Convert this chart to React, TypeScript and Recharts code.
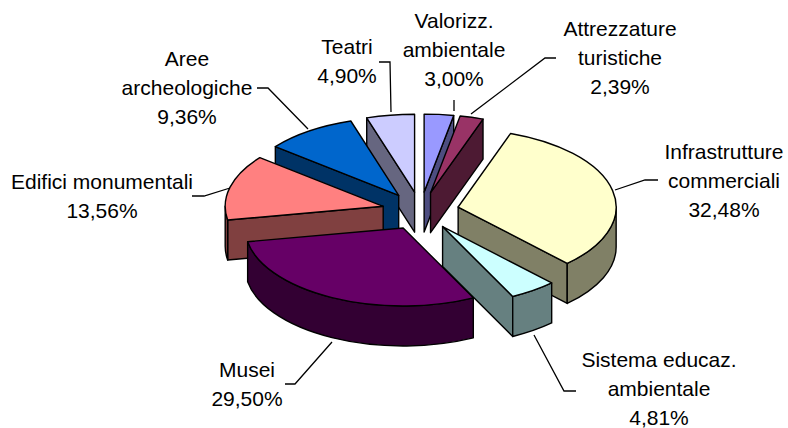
import React from "react";
import { PieChart, Pie } from "recharts";

const names = ["Valorizz. ambientale", "Attrezzature turistiche", "Infrastrutture commerciali", "Sistema educaz. ambientale", "Musei", "Edifici monumentali", "Aree archeologiche", "Teatri"];
const values = [3.0, 2.39, 32.48, 4.81, 29.5, 13.56, 9.36, 4.9];
const colors = ["#9999FF", "#993366", "#FFFFCC", "#CCFFFF", "#660066", "#FF8080", "#0066CC", "#CCCCFF"];
const labelLines = [
  ["Valorizz.", "ambientale"],
  ["Attrezzature", "turistiche"],
  ["Infrastrutture", "commerciali"],
  ["Sistema educaz.", "ambientale"],
  ["Musei"],
  ["Edifici monumentali"],
  ["Aree", "archeologiche"],
  ["Teatri"],
];
// back-to-front painting order of the exploded slices
const paintOrder = [7, 0, 1, 6, 5, 2, 4, 3];

// label layout: centre x, first baseline y, leader polyline
const labelLayout = [
  { x: 454, y: 28, lead: "454,100 454,111" },
  { x: 620, y: 36, lead: "556,58 545,58 471,114" },
  { x: 724, y: 159, lead: "658,180 645,180 615,190" },
  { x: 659, y: 367, lead: "576,391 564,391 534,335" },
  { x: 247, y: 377, lead: "285,384 295,384 332,342" },
  { x: 102, y: 189, lead: "192,196 204,196 230,188" },
  { x: 187, y: 66, lead: "257,88 268,88 308,129" },
  { x: 347, y: 54, lead: "379,62 390,62 391,112" },
];

const data = names.map((name, i) => ({ name, value: values[i], fill: colors[i] }));

const CX = 420.5;
const CY = 211;
const RX = 158;
const RY = 78;
const EXPLODE = 38.5;
const DEPTH = 40;
const FONT = "'Liberation Sans', Arial, sans-serif";

const rad = (d: number) => (d * Math.PI) / 180;

function darken(hex: string) {
  const n = parseInt(hex.slice(1), 16);
  const r = (n >> 16) & 255, g = (n >> 8) & 255, b = n & 255;
  return `rgb(${Math.round(r / 2)},${Math.round(g / 2)},${Math.round(b / 2)})`;
}

function Slice3D(props: any) {
  const { startAngle, endAngle, fill } = props;
  const s = 90 - startAngle;
  const e = 90 - endAngle;
  const m = (s + e) / 2;
  const ax = props.cx + EXPLODE * Math.sin(rad(m));
  const ay = props.cy - (EXPLODE * RY * Math.cos(rad(m))) / RX;
  const pt = (c: number, dy = 0) => [ax + RX * Math.sin(rad(c)), ay - RY * Math.cos(rad(c)) + dy];
  const dark = darken(fill);
  const [sx, sy] = pt(s);
  const [ex, ey] = pt(e);
  const stroke = { stroke: "#000", strokeWidth: 1.4, strokeLinejoin: "round" as const };
  const walls: React.ReactNode[] = [];
  if (sx < ax - 0.01) {
    walls.push(<path key="s" d={`M${ax},${ay}L${sx},${sy}L${sx},${sy + DEPTH}L${ax},${ay + DEPTH}Z`} fill={dark} {...stroke} />);
  }
  if (ex > ax + 0.01) {
    walls.push(<path key="e" d={`M${ax},${ay}L${ex},${ey}L${ex},${ey + DEPTH}L${ax},${ay + DEPTH}Z`} fill={dark} {...stroke} />);
  }
  const a0 = Math.max(s, 90);
  const a1 = Math.min(e, 270);
  if (a1 > a0) {
    const [x0, y0] = pt(a0);
    const [x1, y1] = pt(a1);
    walls.push(
      <path
        key="o"
        d={`M${x0},${y0}A${RX},${RY} 0 0 1 ${x1},${y1}L${x1},${y1 + DEPTH}A${RX},${RY} 0 0 0 ${x0},${y0 + DEPTH}Z`}
        fill={dark}
        {...stroke}
      />
    );
  }
  return (
    <g>
      {walls}
      <path d={`M${ax},${ay}L${sx},${sy}A${RX},${RY} 0 0 1 ${ex},${ey}Z`} fill={fill} {...stroke} />
    </g>
  );
}

function SliceLabel(props: any) {
  const i = props.index;
  const lay = labelLayout[i];
  const lines = [...labelLines[i], values[i].toFixed(2).replace(".", ",") + "%"];
  return (
    <g>
      <polyline points={lay.lead} fill="none" stroke="#000" strokeWidth={1.3} />
      {lines.map((t, k) => (
        <text key={k} x={lay.x} y={lay.y + k * 29} textAnchor="middle" fontFamily={FONT} fontSize={21} fill="#000">
          {t}
        </text>
      ))}
    </g>
  );
}

const pieBase = {
  data,
  dataKey: "value",
  nameKey: "name",
  cx: CX,
  cy: CY,
  outerRadius: RX,
  innerRadius: 0,
  startAngle: 90,
  endAngle: -270,
  isAnimationActive: false,
  legendType: "none" as const,
};

export default function App() {
  return (
    <div style={{ position: "absolute", left: 0, top: 0, width: 788, height: 428, background: "#fff" }}>
      <PieChart width={788} height={428} margin={{ top: 0, right: 0, bottom: 0, left: 0 }}>
        {paintOrder.map((idx) => (
          <Pie
            key={idx}
            {...pieBase}
            labelLine={false}
            shape={(p: any) => (p.name === names[idx] ? <Slice3D {...p} /> : <g />)}
          />
        ))}
        <Pie key="labels" {...pieBase} labelLine={false} shape={() => <g />} label={(p: any) => <SliceLabel {...p} />} />
      </PieChart>
    </div>
  );
}
